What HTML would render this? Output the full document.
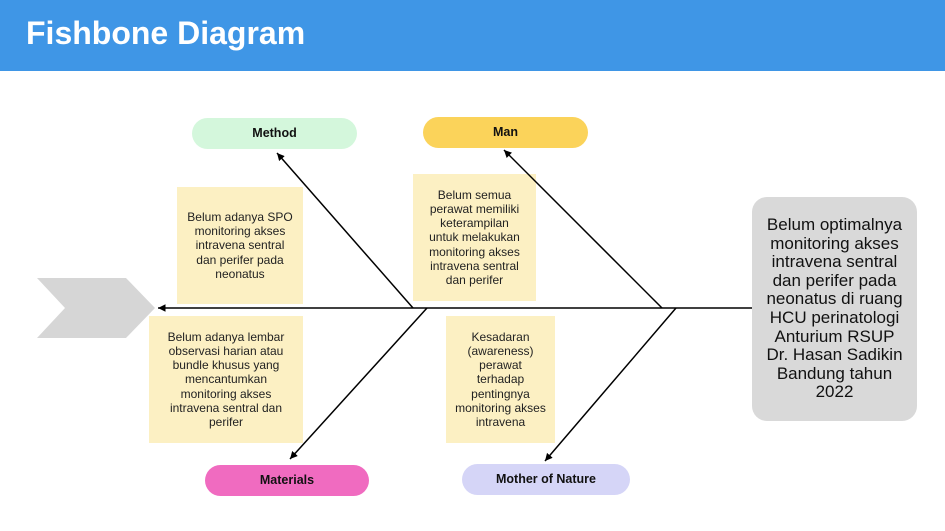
<!DOCTYPE html>
<html><head><meta charset="utf-8"><style>
body{margin:0;width:945px;height:531px;background:#fff;position:relative;overflow:hidden;font-family:"Liberation Sans",sans-serif}
.hd{position:absolute;left:0;top:0;width:945px;height:71px;background:#3f96e6}
.hd span{position:absolute;left:26px;top:15px;color:#fff;font-weight:bold;font-size:32px}
.pill{position:absolute;height:31px;border-radius:16px;font-weight:bold;font-size:12.5px;color:#111;text-align:center;line-height:31px}
.box{position:absolute;background:#fcf0c3;color:#222;font-size:12px;line-height:14.2px;text-align:center;display:flex;align-items:center;justify-content:center;box-sizing:border-box;padding:0 2px;white-space:nowrap}
.g{position:absolute;left:752px;top:197px;width:165px;height:224px;background:#d9d9d9;border-radius:15px;font-size:17px;line-height:18.6px;text-align:center;color:#111;display:flex;align-items:center;justify-content:center}
</style></head><body>
<div class="hd"><span>Fishbone Diagram</span></div>
<svg width="945" height="531" style="position:absolute;left:0;top:0">
<defs><marker id="a" markerWidth="7" markerHeight="7" refX="5" refY="2.5" orient="auto"><path d="M0,0 L5,2.5 L0,5z" fill="#000"/></marker></defs>
<polygon points="37,278 126,278 155,308 126,338 37,338 65,308" fill="#d6d6d6"/>
</svg>
<div class="box" style="left:177px;top:187px;width:126px;height:117px"><div>Belum adanya SPO<br>monitoring akses<br>intravena sentral<br>dan perifer pada<br>neonatus</div></div>
<div class="box" style="left:149px;top:316px;width:154px;height:127px"><div>Belum adanya lembar<br>observasi harian atau<br>bundle khusus yang<br>mencantumkan<br>monitoring akses<br>intravena sentral dan<br>perifer</div></div>
<div class="box" style="left:413px;top:174px;width:123px;height:127px"><div>Belum semua<br>perawat memiliki<br>keterampilan<br>untuk melakukan<br>monitoring akses<br>intravena sentral<br>dan perifer</div></div>
<div class="box" style="left:446px;top:316px;width:109px;height:127px"><div>Kesadaran<br>(awareness)<br>perawat<br>terhadap<br>pentingnya<br>monitoring akses<br>intravena</div></div>
<svg width="945" height="531" style="position:absolute;left:0;top:0">
<g stroke="#000" stroke-width="1.5" fill="none">
<line x1="752" y1="308" x2="158" y2="308" marker-end="url(#a)"/>
<line x1="413" y1="308" x2="277" y2="153" marker-end="url(#a)"/>
<line x1="427" y1="308" x2="290" y2="459" marker-end="url(#a)"/>
<line x1="662" y1="308" x2="504" y2="150" marker-end="url(#a)"/>
<line x1="676" y1="308" x2="545" y2="461" marker-end="url(#a)"/>
</g></svg>
<div class="pill" style="left:192px;top:118px;width:165px;background:#d4f7dc">Method</div>
<div class="pill" style="left:423px;top:117px;width:165px;background:#fbd35a">Man</div>
<div class="pill" style="left:205px;top:465px;width:164px;background:#f06bc0">Materials</div>
<div class="pill" style="left:462px;top:464px;width:168px;background:#d5d5f7">Mother of Nature</div>
<div class="g"><div>Belum optimalnya<br>monitoring akses<br>intravena sentral<br>dan perifer pada<br>neonatus di ruang<br>HCU perinatologi<br>Anturium RSUP<br>Dr. Hasan Sadikin<br>Bandung tahun<br>2022</div></div>
</body></html>
